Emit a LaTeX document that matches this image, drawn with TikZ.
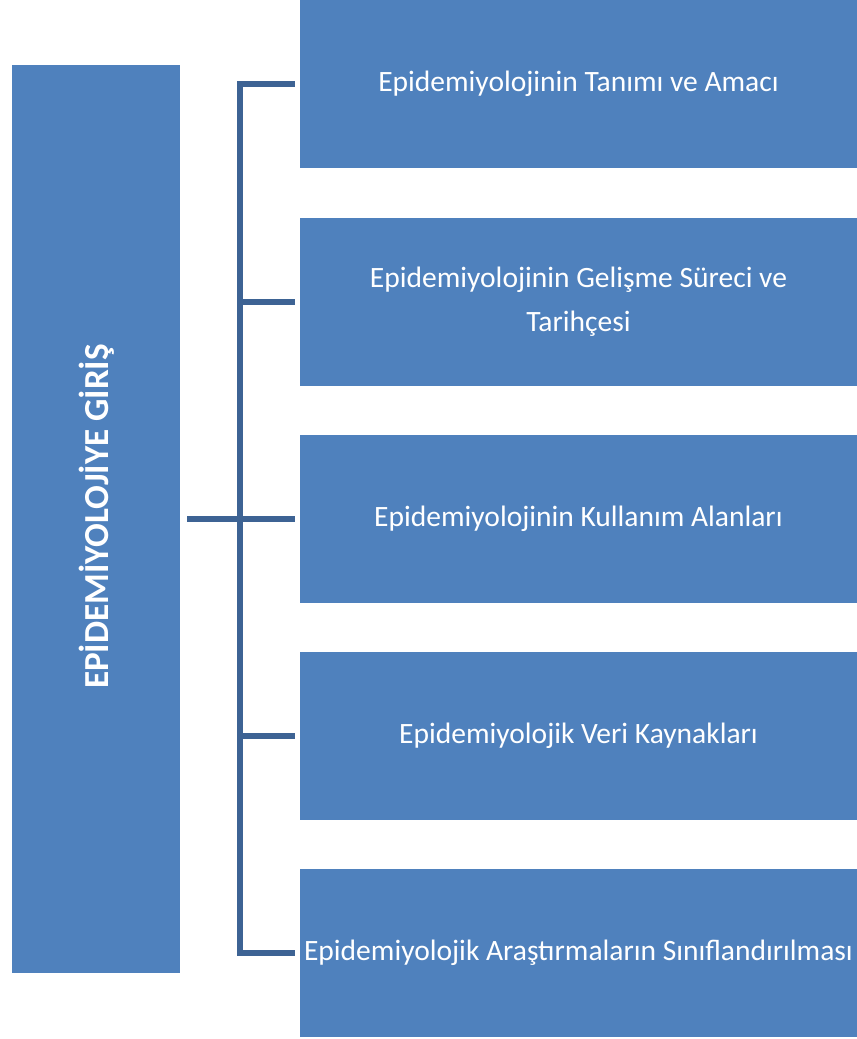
\documentclass[tikz,border=0pt]{standalone}
\usepackage{fontspec}
\setmainfont{Carlito}
\usepackage{tikz}

\definecolor{boxblue}{RGB}{79,129,189}
\definecolor{lineblue}{RGB}{61,99,148}

\tikzset{
  topicbox/.style={fill=boxblue, draw=none, text=white, minimum width=557*0.02cm, minimum height=168*0.02cm, align=center, inner sep=0pt, font=\fontsize{16.8}{25}\selectfont},
  conn/.style={draw=lineblue, line width=2.9pt}
}

\begin{document}
\begin{tikzpicture}[x=0.02cm, y=-0.02cm]
\useasboundingbox (0,0) rectangle (857,1039);

%Left box
\node[fill=boxblue, minimum width=168*0.02cm, minimum height=908*0.02cm, inner sep=0pt] (main) at (96,519) {};
\node[text=white, rotate=90, font=\fontsize{20}{24}\selectfont\bfseries] (title) at (97,516.5) {EPİDEMİYOLOJİYE GİRİŞ};

%Right boxes
\node[topicbox] (b1) at (578.5,84) {Epidemiyolojinin Tanımı ve Amacı};
\node[topicbox] (b2) at (578.5,302) {Epidemiyolojinin Gelişme Süreci ve\\Tarihçesi};
\node[topicbox] (b3) at (578.5,519) {Epidemiyolojinin Kullanım Alanları};
\node[topicbox] (b4) at (578.5,736) {Epidemiyolojik Veri Kaynakları};
\node[topicbox] (b5) at (578.5,953) {Epidemiyolojik Araştırmaların Sınıflandırılması};

%Connectors
\coordinate (spine) at (240,0);
\foreach \i in {1,...,5}
  \draw[conn, shorten <=7*0.02cm, shorten >=5*0.02cm] (main.east) -- (spine |- main.east) |- (b\i.west);

\end{tikzpicture}
\end{document}
